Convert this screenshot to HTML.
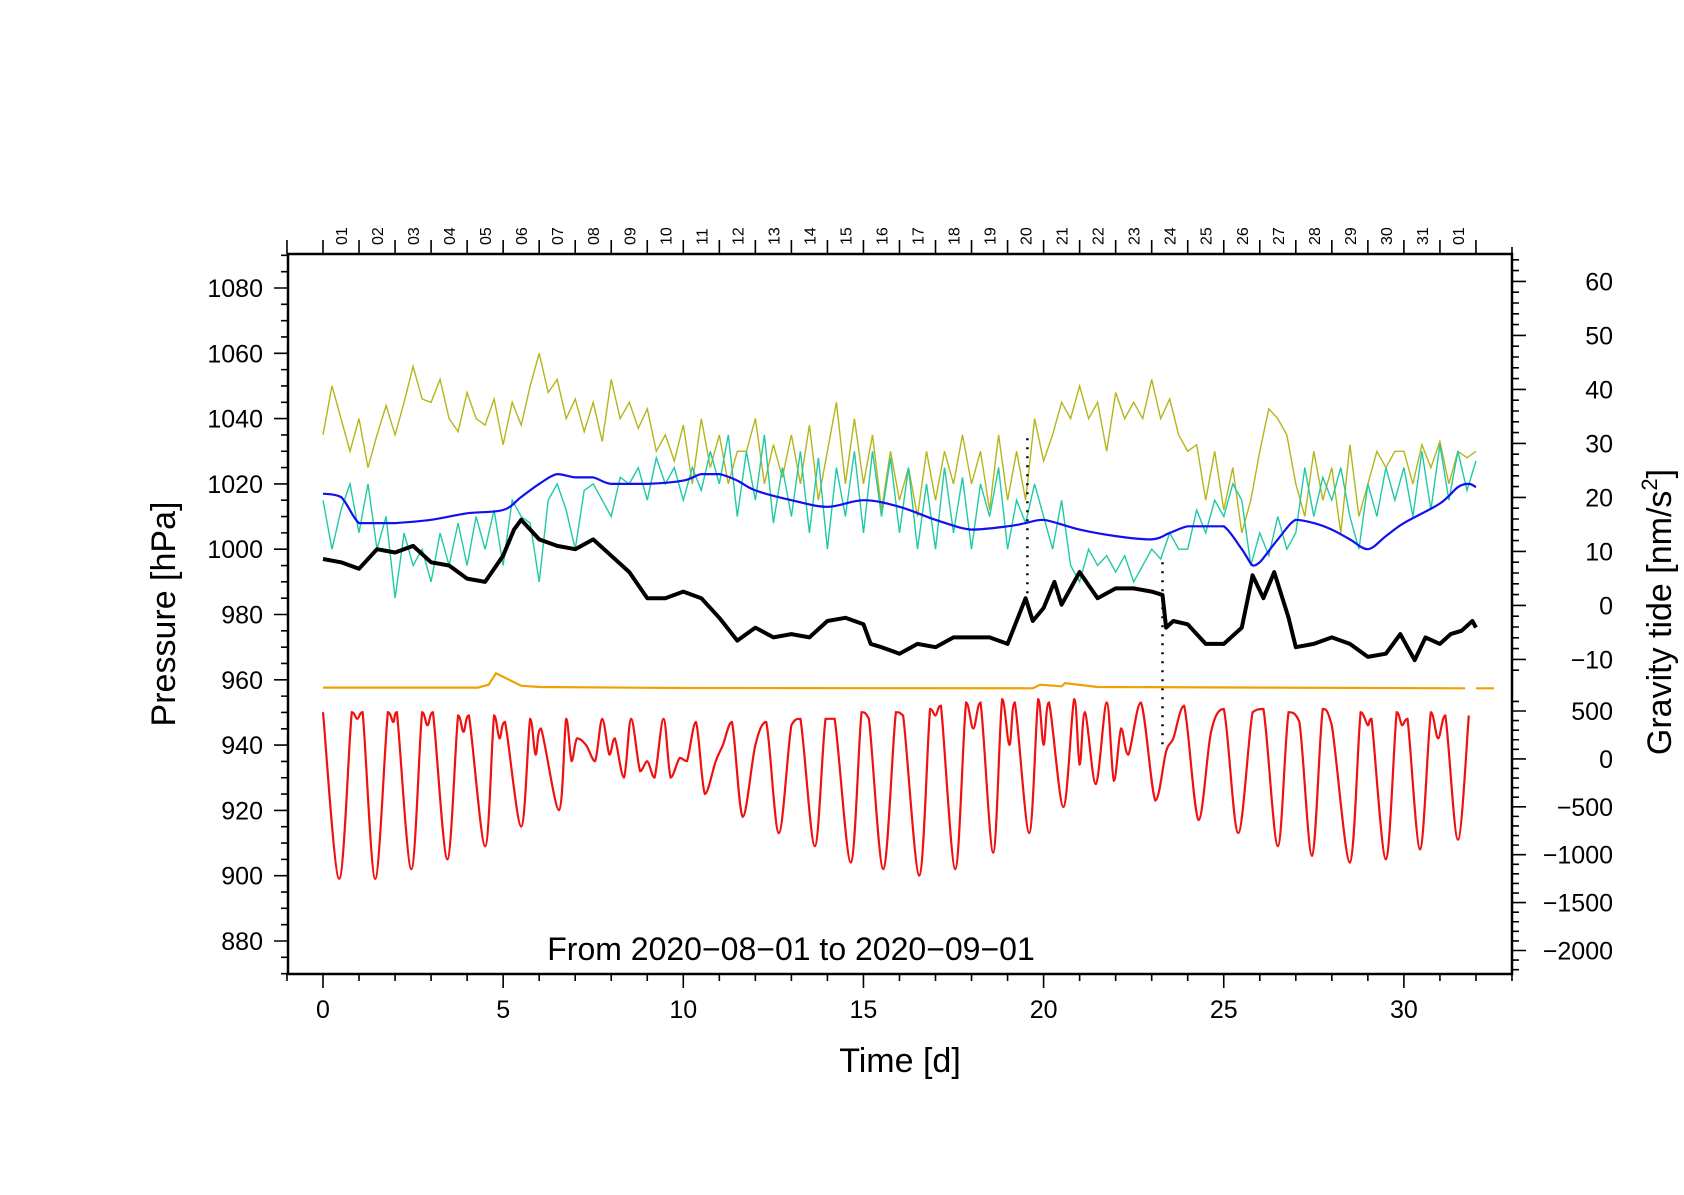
<!DOCTYPE html>
<html><head><meta charset="utf-8"><style>
html,body{margin:0;padding:0;background:#fff}
svg text{font-family:"Liberation Sans",sans-serif;fill:#000}
</style></head><body>
<svg id="chart" width="1684" height="1190" viewBox="0 0 1684 1190" xmlns="http://www.w3.org/2000/svg">
<defs><clipPath id="clip"><rect x="288" y="254" width="1224" height="720"/></clipPath></defs>
<g id="grid-layer"></g>
<g id="series-layer" clip-path="url(#clip)"></g>
<rect x="288" y="254" width="1224" height="720" fill="none" stroke="#000" stroke-width="2.5"/>
<g id="axis-layer"></g>
<text transform="translate(175,614) rotate(-90)" font-size="34" text-anchor="middle">Pressure [hPa]</text>
<text transform="translate(1671,612) rotate(-90)" font-size="34" text-anchor="middle">Gravity tide [nm/s<tspan font-size="22" dy="-14">2</tspan><tspan dy="14">]</tspan></text>
<text x="900" y="1072" font-size="34" text-anchor="middle">Time [d]</text>
<text x="791" y="960" font-size="32" text-anchor="middle">From 2020−08−01 to 2020−09−01</text>
</svg>
<script>
// ---- data ----
const blackT=[0,0.5,1,1.5,2,2.5,3,3.5,4,4.5,5,5.3,5.5,6,6.5,7,7.5,8,8.5,9,9.5,10,10.5,11,11.5,12,12.5,13,13.5,14,14.5,15,15.2,15.5,16,16.5,17,17.5,18,18.5,19,19.5,19.7,20,20.3,20.5,21,21.5,22,22.5,23,23.3,23.4,23.6,24,24.5,25,25.5,25.8,26.1,26.4,26.8,27,27.5,28,28.5,29,29.5,29.9,30.3,30.6,31,31.3,31.6,31.9,32];
const blackV=[997,996,994,1000,999,1001,996,995,991,990,998,1006,1009,1003,1001,1000,1003,998,993,985,985,987,985,979,972,976,973,974,973,978,979,977,971,970,968,971,970,973,973,973,971,985,978,982,990,983,993,985,988,988,987,986,976,978,977,971,971,976,992,985,993,979,970,971,973,971,967,968,974,966,973,971,974,975,978,976];
const blueT=[0,0.5,1,1.5,2,3,4,5,5.5,6,6.5,7,7.5,8,9,10,10.5,11,11.5,12,13,14,15,16,17,18,19,19.5,20,21,22,23,23.5,24,24.5,25,25.5,25.8,26,26.5,27,27.5,28,28.5,29,29.5,30,31,31.5,31.8,32];
const blueV=[1017,1016,1008,1008,1008,1009,1011,1012,1016,1020,1023,1022,1022,1020,1020,1021,1023,1023,1021,1018,1015,1013,1015,1013,1009,1006,1007,1008,1009,1006,1004,1003,1005,1007,1007,1007,1000,995,996,1003,1009,1008,1006,1003,1000,1004,1008,1014,1019,1020,1019];
const oliveV=[1035,1050,1040,1030, 1040,1025,1035,1044, 1035,1045,1056,1046, 1045,1052,1040,1036, 1048,1040,1038,1046, 1032,1045,1038,1050, 1060,1048,1052,1040, 1046,1036,1045,1033, 1052,1040,1045,1037, 1043,1030,1035,1027, 1038,1020,1040,1025, 1035,1020,1030,1030, 1040,1020,1032,1022, 1035,1020,1038,1015, 1030,1045,1020,1040, 1020,1035,1012,1030, 1015,1025,1010,1030, 1015,1030,1020,1035, 1020,1030,1012,1035, 1015,1030,1015,1040, 1027,1035,1045,1040, 1050,1040,1045,1030, 1048,1040,1045,1040, 1052,1040,1046,1035, 1030,1032,1015,1030, 1012,1025,1005,1015, 1030,1043,1040,1035, 1020,1010,1030,1015, 1025,1005,1032,1010, 1020,1030,1025,1030, 1030,1020,1032,1025, 1033,1020,1030,1028, 1030];
const cyanV=[1015,1000,1012,1020, 1005,1020,1000,1010, 985,1005,995,1000, 990,1005,995,1008, 995,1010,1000,1012, 995,1015,1010,1008, 990,1015,1020,1012, 1000,1018,1020,1015, 1010,1022,1020,1025, 1015,1028,1020,1025, 1015,1025,1018,1030, 1020,1035,1010,1030, 1015,1035,1008,1025, 1010,1030,1005,1028, 1000,1025,1010,1030, 1005,1030,1010,1028, 1005,1025,1000,1020, 1000,1025,1005,1022, 1000,1020,1010,1025, 1000,1015,1008,1020, 1010,1000,1015,995, 990,1000,995,998, 993,998,990,995, 1000,997,1005,1000, 1000,1012,1005,1015, 1010,1020,1015,995, 1005,998,1010,1000, 1005,1025,1010,1022, 1015,1025,1010,1000, 1020,1010,1025,1015, 1025,1010,1030,1012, 1032,1015,1030,1018, 1027];
const orangeT=[0,4.3,4.6,4.8,5.5,6,10,19.7,19.9,20.5,20.6,21.5,31.7];
const orangeV=[957.6,957.6,958.5,962,958.2,957.8,957.5,957.4,958.5,958,959,957.8,957.4];
const redT=[0,0.45,0.8,0.95,1.1,1.45,1.8,1.95,2.05,2.45,2.75,2.9,3.05,3.45,3.75,3.9,4.05,4.5,4.75,4.9,5.05,5.5,5.75,5.9,6.05,6.55,6.75,6.9,7.05,7.3,7.55,7.75,7.95,8.1,8.35,8.55,8.8,9.0,9.2,9.45,9.65,9.9,10.1,10.35,10.6,10.9,11.1,11.35,11.65,12.0,12.3,12.65,13.0,13.25,13.65,13.95,14.2,14.65,14.95,15.15,15.55,15.9,16.1,16.55,16.85,17.0,17.15,17.55,17.85,18.05,18.25,18.6,18.85,19.05,19.2,19.6,19.85,20.0,20.15,20.55,20.85,21.0,21.15,21.45,21.75,21.95,22.15,22.35,22.7,23.1,23.4,23.6,23.9,24.3,24.65,25.0,25.4,25.8,26.1,26.5,26.8,27.1,27.45,27.75,28.0,28.5,28.8,29.0,29.1,29.5,29.8,29.95,30.1,30.45,30.75,30.95,31.15,31.5,31.8];
const redV=[487,-1252,487,419,487,-1252,487,385,487,-1150,487,351,487,-1048,453,283,453,-911,453,214,385,-707,419,44,317,-536,419,-24,214,146,-24,419,44,214,-195,419,-127,-24,-195,419,-195,10,-24,385,-366,-24,146,385,-604,146,385,-775,351,419,-911,419,419,-1082,487,419,-1150,487,453,-1218,521,453,555,-1150,589,317,589,-979,623,146,589,-775,623,146,589,-502,623,-59,487,-263,589,-229,317,44,589,-434,78,214,555,-638,283,521,-775,487,521,-911,487,385,-1013,521,351,-1082,487,351,419,-1048,487,351,419,-945,487,214,453,-843,453];
const leftTicks=[880,900,920,940,960,980,1000,1020,1040,1060,1080];
const upperRightTicks=[60,50,40,30,20,10,0,-10];
const lowerRightTicks=[500,0,-500,-1000,-1500,-2000];
const bottomTicks=[0,5,10,15,20,25,30];
const dayLabels=["01","02","03","04","05","06","07","08","09","10","11","12","13","14","15","16","17","18","19","20","21","22","23","24","25","26","27","28","29","30","31","01"];

// ---- axes ----
const X=t=>323+(t)*36.03;
const YL=h=>288+(1080-h)*3.265;
const YR1=g=>281.4+(60-g)*5.4;
const YR2=g=>711+(500-g)*0.0958;
const NS="http://www.w3.org/2000/svg";
const series=document.getElementById('series-layer');
const axis=document.getElementById('axis-layer');
function mk(tag,attrs,parent){const e=document.createElementNS(NS,tag);for(const k in attrs)e.setAttribute(k,attrs[k]);parent.appendChild(e);return e;}
function smooth(pts){let d=`M${pts[0][0].toFixed(1)},${pts[0][1].toFixed(1)}`;
 for(let i=0;i<pts.length-1;i++){const p0=pts[Math.max(0,i-1)],p1=pts[i],p2=pts[i+1],p3=pts[Math.min(pts.length-1,i+2)];
 const lo=Math.min(p1[1],p2[1]),hi=Math.max(p1[1],p2[1]);
 const cl=v=>Math.max(lo,Math.min(hi,v));
 const c1=[p1[0]+(p2[0]-p0[0])/6,cl(p1[1]+(p2[1]-p0[1])/6)],c2=[p2[0]-(p3[0]-p1[0])/6,cl(p2[1]-(p3[1]-p1[1])/6)];
 d+=`C${c1[0].toFixed(1)},${c1[1].toFixed(1)} ${c2[0].toFixed(1)},${c2[1].toFixed(1)} ${p2[0].toFixed(1)},${p2[1].toFixed(1)}`;}return d;}
function lin(pts){return 'M'+pts.map(p=>p[0].toFixed(1)+','+p[1].toFixed(1)).join('L');}

let p;
const q=(v,i)=>[X(i*0.25),YL(v)];
p=mk('path',{d:lin(oliveV.map(q)),fill:'none',stroke:'#b5b51a','stroke-width':1.4},series);


p=mk('path',{d:lin(cyanV.map(q)),fill:'none',stroke:'#1fc9a8','stroke-width':1.4},series);


p=mk('path',{d:smooth(blueT.map((t,i)=>[X(t),YL(blueV[i])])),fill:'none',stroke:'#1010f0','stroke-width':2.2},series);


p=mk('path',{d:lin(blackT.map((t,i)=>[X(t),YL(blackV[i])])),fill:'none',stroke:'#000','stroke-width':4,'stroke-linejoin':'round'},series);


p=mk('path',{d:`M${X(19.55)},${YL(1034)}V${YL(985)}M${X(23.3)},${YL(996)}V${YL(940)}`,fill:'none',stroke:'#000','stroke-width':2.5,'stroke-dasharray':'2 7'},series);


p=mk('path',{d:lin(orangeT.map((t,i)=>[X(t),YL(orangeV[i])])),fill:'none',stroke:'#f0a000','stroke-width':2.2},series);


p=mk('path',{d:`M${X(32.0)},${YL(957.4)}H${X(32.5)}`,fill:'none',stroke:'#f0a000','stroke-width':2.2},series);


p=mk('path',{d:smooth(redT.map((t,i)=>[X(t),YR2(redV[i])])),fill:'none',stroke:'#f01010','stroke-width':2.2},series);



// ticks
let d='';
for(let h=870;h<=1090;h+=5){const y=YL(h);d+=`M288,${y}h${h%20===0?-14:-7}`;}
for(let t=-1;t<=33;t++){d+=`M${X(t)},974v${t%5===0?14:7}M${X(t)},254v-7`;}
for(let t=-1;t<=32;t++){d+=`M${X(t)},254v-14`;}
for(let g=-12;g<=66;g+=2){const y=YR1(g);if(y<254||y>684)continue;d+=`M1512,${y}h${g%10===0?14:7}`;}
for(let g=-2200;g<=600;g+=100){const y=YR2(g);if(y<690||y>974)continue;d+=`M1512,${y}h${g%500===0?14:7}`;}
p=mk('path',{d:d,stroke:'#000','stroke-width':1.6,fill:'none'},axis);



leftTicks.forEach(v=>{const t=mk('text',{x:263,y:YL(v)+9,'font-size':25,'text-anchor':'end'},axis);t.textContent=v;

});
upperRightTicks.forEach(v=>{const t=mk('text',{x:1613,y:YR1(v)+9,'font-size':25,'text-anchor':'end'},axis);t.textContent=String(v).replace('-','−');

});
lowerRightTicks.forEach(v=>{const t=mk('text',{x:1613,y:YR2(v)+9,'font-size':25,'text-anchor':'end'},axis);t.textContent=String(v).replace('-','−');

});
bottomTicks.forEach(v=>{const t=mk('text',{x:X(v),y:1018,'font-size':25,'text-anchor':'middle'},axis);t.textContent=v;

});
dayLabels.forEach((s,i)=>{const x=X(i+0.5)+6;const t=mk('text',{transform:`translate(${x.toFixed(1)},245) rotate(-90)`,'font-size':16},axis);t.textContent=s;

});
</script>
</body></html>
